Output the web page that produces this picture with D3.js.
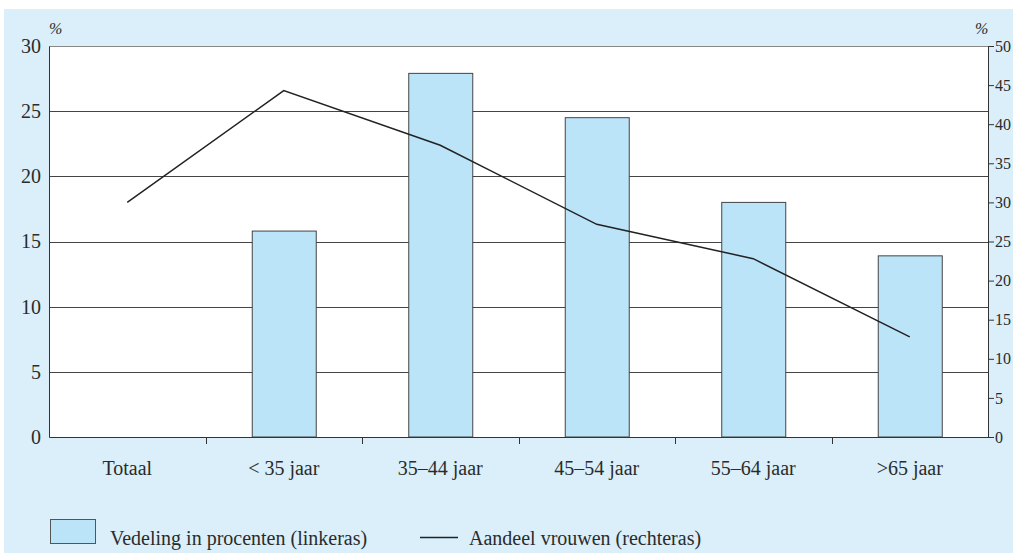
<!DOCTYPE html>
<html>
<head>
<meta charset="utf-8">
<script src="https://cdn.jsdelivr.net/npm/d3@7"></script>
<style>
  body { margin: 0; background: #fff; }
  svg { display: block; }
  text { font-family: "Liberation Serif", "DejaVu Serif", serif; fill: #2b2b2b; }
</style>
</head>
<body>
<div id="chart"></div>
<script>
// categories and values
var categories = ["Totaal", "< 35 jaar", "35\u201344 jaar", "45\u201354 jaar", "55\u201364 jaar", ">65 jaar"];
var verdeling = [null, 15.8, 27.9, 24.5, 18.0, 13.9];   // linkeras
var aandeelVrouwen = [30.0, 44.3, 37.3, 27.2, 22.8, 12.8]; // rechteras
var leftTicks = [0, 5, 10, 15, 20, 25, 30];
var rightTicks = [0, 5, 10, 15, 20, 25, 30, 35, 40, 45, 50];

var W = 1013, H = 553;
var margin = { top: 46, right: 25, bottom: 116, left: 49 };
var width = W - margin.left - margin.right;
var height = H - margin.top - margin.bottom;
var fs = 20;

var svg = d3.select("#chart").append("svg")
  .attr("width", W)
  .attr("height", H);

// light blue panel
svg.append("rect")
  .attr("x", 4).attr("y", 9)
  .attr("width", W - 4).attr("height", H - 9)
  .attr("fill", "#daeffa");

var g = svg.append("g")
  .attr("transform", "translate(" + margin.left + "," + margin.top + ")");

var x = d3.scaleBand().domain(categories).range([0, width]);
var yL = d3.scaleLinear().domain([0, 30]).range([height, 0]);
var yR = d3.scaleLinear().domain([0, 50]).range([height, 0]);

// plot area
g.append("rect")
  .attr("width", width).attr("height", height)
  .attr("fill", "#fff");

// gridlines
g.selectAll(".grid")
  .data(leftTicks.filter(function (d) { return d > 0; }))
  .enter()
  .append("line")
  .attr("x1", 0).attr("x2", width)
  .attr("y1", function (d) { return Math.round(yL(d)) + 0.5; })
  .attr("y2", function (d) { return Math.round(yL(d)) + 0.5; })
  .attr("stroke", function (d) { return d === 30 ? "#888" : "#444"; })
  .attr("stroke-width", 1);

// bars
var barW = 64;
g.selectAll(".bar")
  .data(categories.map(function (c, i) { return { c: c, v: verdeling[i] }; })
    .filter(function (d) { return d.v !== null; }))
  .enter()
  .append("rect")
  .attr("x", function (d) { return x(d.c) + x.bandwidth() / 2 - barW / 2 + 0.5; })
  .attr("y", function (d) { return yL(d.v); })
  .attr("width", barW)
  .attr("height", function (d) { return height - yL(d.v); })
  .attr("fill", "#bbe4f8")
  .attr("stroke", "#444")
  .attr("stroke-width", 1);

// line
var line = d3.line()
  .x(function (d) { return x(d.c) + x.bandwidth() / 2; })
  .y(function (d) { return yR(d.v); });

g.append("path")
  .datum(categories.map(function (c, i) { return { c: c, v: aandeelVrouwen[i] }; }))
  .attr("d", line)
  .attr("fill", "none")
  .attr("stroke", "#222")
  .attr("stroke-width", 1.5);

function styleText(sel, size) {
  sel.selectAll("text")
    .attr("font-size", size)
    .style("font-family", "Liberation Serif, serif")
    .attr("fill", "#2b2b2b");
}

// left axis
var leftAxis = g.append("g")
  .call(d3.axisLeft(yL).tickValues(leftTicks).tickSize(0).tickPadding(8));
leftAxis.select(".domain").attr("stroke", "#333");
styleText(leftAxis, fs);

// bottom axis
var bottomAxis = g.append("g")
  .attr("transform", "translate(0," + height + ")")
  .call(d3.axisBottom(x).tickSize(0).tickPadding(24));
bottomAxis.select(".domain").attr("stroke", "#333");
styleText(bottomAxis, fs);

// category separators on the bottom axis
g.selectAll(".sep")
  .data(categories.slice(1))
  .enter()
  .append("line")
  .attr("x1", function (d) { return Math.round(x(d)) + 0.5; })
  .attr("x2", function (d) { return Math.round(x(d)) + 0.5; })
  .attr("y1", height)
  .attr("y2", height + 7)
  .attr("stroke", "#333");

// right axis (labels a bit smaller so they stay inside the window)
var rightAxis = g.append("g")
  .attr("transform", "translate(" + width + ",0)")
  .call(d3.axisRight(yR).tickValues(rightTicks).tickSize(6).tickPadding(1).tickSizeOuter(0));
rightAxis.select(".domain").attr("stroke", "#333");
rightAxis.selectAll("line").attr("stroke", "#333");
styleText(rightAxis, 16);

// % labels
g.append("text").attr("x", 0).attr("y", -12).attr("font-size", 16)
  .style("font-style", "italic").text("%");
g.append("text").attr("x", width - 13).attr("y", -12).attr("font-size", 16)
  .style("font-style", "italic").text("%");

// legend
var legend = svg.append("g");
legend.append("rect")
  .attr("x", 50.5).attr("y", 519.5)
  .attr("width", 45).attr("height", 24)
  .attr("fill", "#bbe4f8")
  .attr("stroke", "#555");
legend.append("text")
  .attr("x", 110).attr("y", 545)
  .attr("font-size", fs)
  .text("Vedeling in procenten (linkeras)");
legend.append("line")
  .attr("x1", 420).attr("x2", 458)
  .attr("y1", 537.5).attr("y2", 537.5)
  .attr("stroke", "#222").attr("stroke-width", 1.5);
legend.append("text")
  .attr("x", 469).attr("y", 545)
  .attr("font-size", fs)
  .text("Aandeel vrouwen (rechteras)");
</script>
</body>
</html>
